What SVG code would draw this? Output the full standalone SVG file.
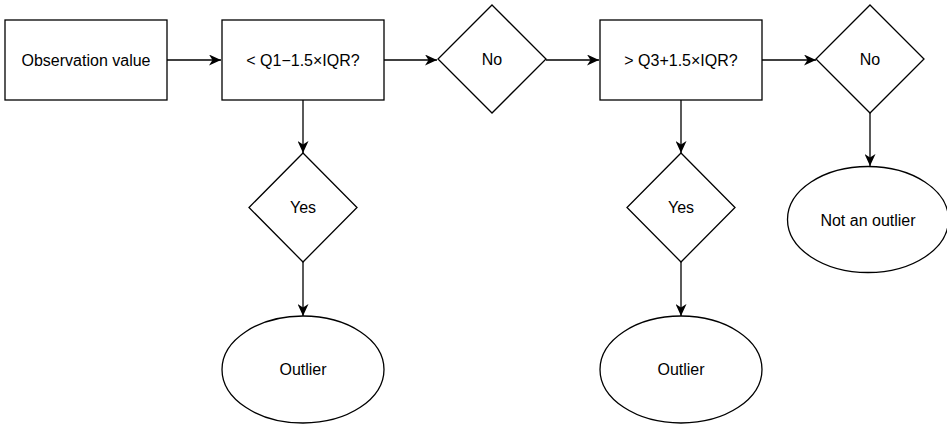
<svg xmlns="http://www.w3.org/2000/svg" width="947" height="425" viewBox="0 0 947 425">
<style>
.s{fill:#fff;stroke:#000;stroke-width:1.3}
.t{font-family:"Liberation Sans",Arial,sans-serif;font-size:16px;fill:#000;text-anchor:middle;dominant-baseline:central}
.c{fill:none;stroke:#000;stroke-width:1.3;marker-end:url(#a)}
</style>
<defs>
<marker id="a" viewBox="0 0 12 11" refX="12" refY="5.5" markerWidth="12" markerHeight="11" markerUnits="userSpaceOnUse" orient="auto">
<path d="M0,0 L12,5.5 L0,11 L3.5,5.5 Z" fill="#000"/>
</marker>
</defs>
<rect width="947" height="425" fill="#fff"/>
<g id="connectors">
<line class="c" x1="167" y1="60" x2="221" y2="60"/>
<line class="c" x1="384" y1="60" x2="437" y2="60"/>
<line class="c" x1="546" y1="60" x2="599" y2="60"/>
<line class="c" x1="762" y1="60" x2="816" y2="60"/>
<line class="c" x1="870" y1="113" x2="870" y2="166"/>
<line class="c" x1="303" y1="100" x2="303" y2="153"/>
<line class="c" x1="303" y1="262" x2="303" y2="316"/>
<line class="c" x1="681" y1="100" x2="681" y2="153"/>
<line class="c" x1="681" y1="262" x2="681" y2="316"/>
</g>
<g id="obs"><rect class="s" x="5" y="20" width="162" height="80"/><text class="t" x="86" y="60">Observation value</text></g>
<g id="q1"><rect class="s" x="222" y="20" width="162" height="80"/><text class="t" x="303" y="60">&lt; Q1−1.5×IQR?</text></g>
<g id="no1"><path class="s" d="M492,5 L546,59 L492,113 L438,59 Z"/><text class="t" x="492" y="59">No</text></g>
<g id="q3"><rect class="s" x="600" y="20" width="162" height="80"/><text class="t" x="681" y="60">&gt; Q3+1.5×IQR?</text></g>
<g id="no2"><path class="s" d="M870,5 L924,59 L870,113 L816,59 Z"/><text class="t" x="870" y="59">No</text></g>
<g id="yes1"><path class="s" d="M303,153 L357,207.5 L303,262 L249,207.5 Z"/><text class="t" x="303" y="207">Yes</text></g>
<g id="yes2"><path class="s" d="M681,153 L735,207.5 L681,262 L627,207.5 Z"/><text class="t" x="681" y="207">Yes</text></g>
<g id="out1"><ellipse class="s" cx="303" cy="369.5" rx="81" ry="53.5"/><text class="t" x="303" y="369">Outlier</text></g>
<g id="out2"><ellipse class="s" cx="681" cy="369.5" rx="81" ry="53.5"/><text class="t" x="681" y="369">Outlier</text></g>
<g id="not"><ellipse class="s" cx="868" cy="219.5" rx="80.5" ry="53"/><text class="t" x="868" y="220">Not an outlier</text></g>
</svg>
